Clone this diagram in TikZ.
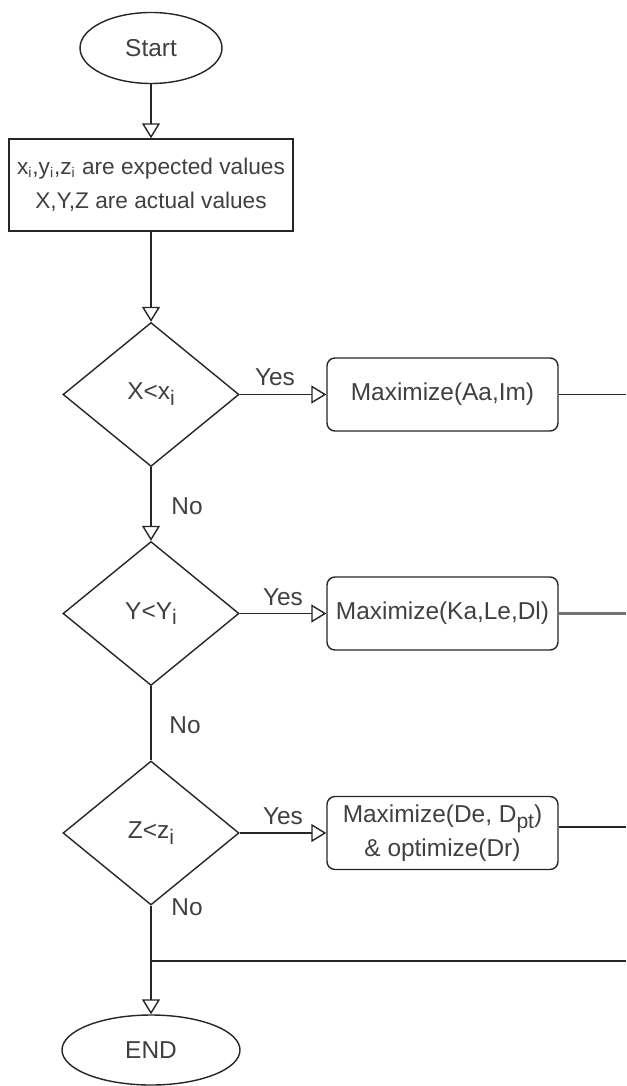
\documentclass[tikz,border=0pt]{standalone}
\usepackage{fontspec}
\setmainfont{Liberation Sans}
\usepackage{tikz}
\usetikzlibrary{shapes,positioning}
\usetikzlibrary{arrows.meta}
\usetikzlibrary{calc}

\newcommand{\dn}[1]{\raisebox{-0.45ex}{\fontsize{12}{12}\selectfont #1}}
\newcommand{\lo}[1]{\textsubscript{\fontsize{8}{8}\selectfont #1}}

\begin{document}
\begin{tikzpicture}[
  every node/.style={font=\fontsize{13.9}{19.4}\selectfont, text=black!75},
  line/.style={draw=black!85, line width=0.8pt},
  arr/.style={line, -{Triangle[open,length=3mm,width=3.6mm]}},
  term/.style={ellipse, line, inner sep=0pt},
  initbox/.style={rectangle, line, minimum width=5.68cm, minimum height=1.84cm, align=center,
                  font=\fontsize{12.9}{19.4}\selectfont},
  test/.style={diamond, line, minimum width=3.52cm, minimum height=2.88cm, inner sep=0pt},
  proc/.style={rectangle, rounded corners=1.6mm, line, minimum width=4.62cm, minimum height=1.46cm, align=center, inner sep=0pt}
]
\useasboundingbox (0,0) rectangle (12.52,-21.72);
\coordinate (edge) at (12.52,0);
\coordinate (join) at (3.02,-19.22);

\node[term, minimum width=2.84cm, minimum height=1.42cm] (start) at (3.02,-0.96) {Start};
\node[initbox] (init) at (3.02,-3.70)
  {x\lo{i},y\lo{i},z\lo{i} are expected values\\X,Y,Z are actual values};

\node[test] (t1) at (3.02,-7.89)  {X<x\dn{i}};
\node[test] (t2) at (3.02,-12.27) {Y<Y\dn{i}};
\node[test] (t3) at (3.02,-16.66) {Z<z\dn{i}};

\node[proc] (p1) at (8.85,-7.89)  {Maximize(Aa,Im)};
\node[proc] (p2) at (8.85,-12.27) {Maximize(Ka,Le,Dl)};
\node[proc] (p3) at (8.85,-16.66) {Maximize(De, D\dn{pt})\\\& optimize(Dr)};

\node[term, minimum width=3.56cm, minimum height=1.40cm] (end) at (3.02,-21.0) {END};

\node (yes1) at (5.50,-7.54)  {Yes};
\node (yes2) at (5.66,-11.94) {Yes};
\node (yes3) at (5.66,-16.32) {Yes};
\node (no1)  at (3.74,-10.12) {No};
\node (no2)  at (3.70,-14.50) {No};
\node (no3)  at (3.74,-18.14) {No};

\draw[arr] (start) -- (init);
\draw[arr] (init) -- (t1);
\draw[arr] (t1) -- (t2);
\draw[line] (t2) -- (t3);
\draw[line] (t3) -- (join);
\draw[arr] (join) -- (end);
\draw[line] (join) -- (join -| edge);

\foreach \i in {1,2,3} \draw[arr] (t\i) -- (p\i);
\draw[line] (p1.east) -- (p1.east -| edge);
\draw[line, draw=black!55, line width=1.3pt] (p2.east) -- (p2.east -| edge);
\draw[line] ([yshift=1.2mm]p3.east) -- ([yshift=1.2mm]p3.east -| edge);
\end{tikzpicture}
\end{document}
